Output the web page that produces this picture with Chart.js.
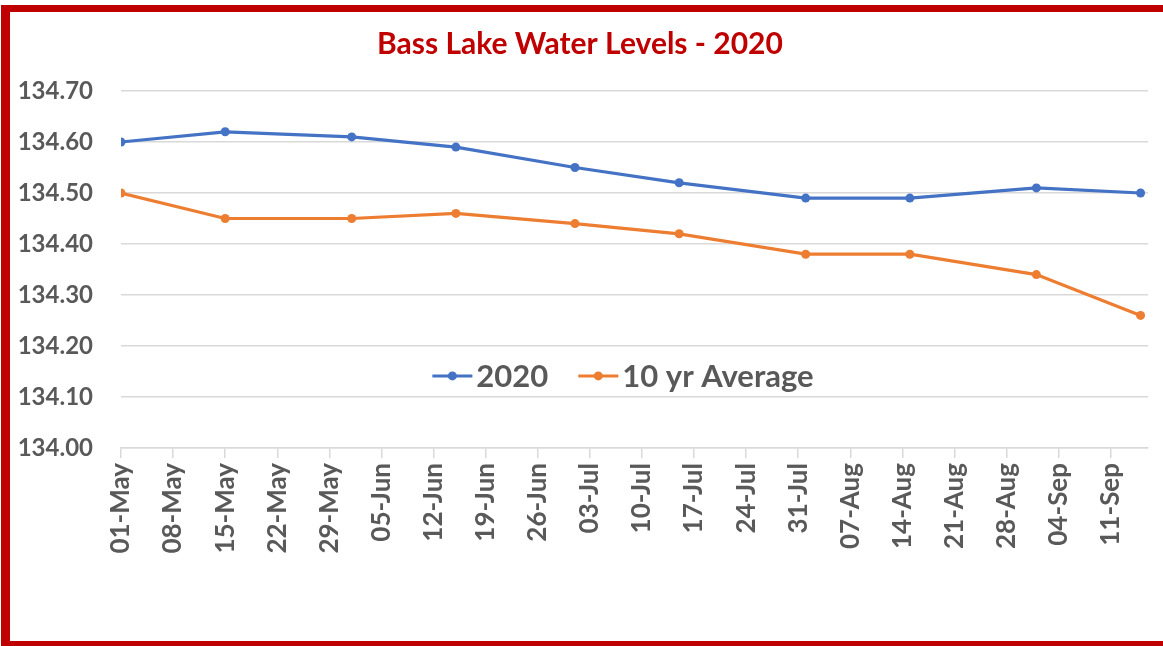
<!DOCTYPE html>
<html>
<head>
<meta charset="utf-8">
<script src="https://cdn.jsdelivr.net/npm/chart.js@4.4.1/dist/chart.umd.min.js"></script>
<style>
  html, body { margin: 0; padding: 0; background: #ffffff; }
  #wrap { position: relative; width: 1163px; height: 646px; }
</style>
</head>
<body>
<div id="wrap"><canvas id="c"></canvas></div>
<script>
// ---- Data ----
const chartTitle = 'Bass Lake Water Levels - 2020';
const dates = ['2020-05-01','2020-05-15','2020-06-01','2020-06-15','2020-07-01','2020-07-15','2020-08-01','2020-08-15','2020-09-01','2020-09-15'];
const seriesNames = ['2020', '10 yr Average'];
const levels2020 = [134.60, 134.62, 134.61, 134.59, 134.55, 134.52, 134.49, 134.49, 134.51, 134.50];
const levelsAvg = [134.50, 134.45, 134.45, 134.46, 134.44, 134.42, 134.38, 134.38, 134.34, 134.26];
const tickDates = ['2020-05-01','2020-05-08','2020-05-15','2020-05-22','2020-05-29','2020-06-05','2020-06-12','2020-06-19','2020-06-26','2020-07-03','2020-07-10','2020-07-17','2020-07-24','2020-07-31','2020-08-07','2020-08-14','2020-08-21','2020-08-28','2020-09-04','2020-09-11'];
const tickLabels = ['01-May','08-May','15-May','22-May','29-May','05-Jun','12-Jun','19-Jun','26-Jun','03-Jul','10-Jul','17-Jul','24-Jul','31-Jul','07-Aug','14-Aug','21-Aug','28-Aug','04-Sep','11-Sep'];
const axisStartDate = '2020-05-01';
const axisEndDate = '2020-09-16';
const yTicks = [134.00, 134.10, 134.20, 134.30, 134.40, 134.50, 134.60, 134.70];

// day offset from the axis start
function dayOf(s) {
  const p = s.split('-').map(Number), q = axisStartDate.split('-').map(Number);
  return Math.round((Date.UTC(p[0], p[1]-1, p[2]) - Date.UTC(q[0], q[1]-1, q[2])) / 86400000);
}
const tickDays = tickDates.map(dayOf);

const BLUE = '#4472C4', ORANGE = '#ED7D31', GREY = '#595959', GRID = '#D9D9D9', RED = '#C00000';
Chart.defaults.font.family = 'Lato, "Open Sans", sans-serif';

const frame = {
  id: 'frame',
  beforeDraw(chart) {
    const ctx = chart.ctx;
    ctx.save();
    ctx.fillStyle = '#ffffff';
    ctx.fillRect(0, 0, chart.width, chart.height);
    ctx.restore();
  },
  afterDraw(chart) {
    const ctx = chart.ctx, w = chart.width, h = chart.height;
    ctx.save();
    ctx.fillStyle = RED;
    ctx.fillRect(1, 5, w - 1, 7);     // top
    ctx.fillRect(1, 5, 9, h - 5);     // left
    ctx.fillRect(1, h - 5, w - 1, 5); // bottom
    ctx.restore();
  }
};

const innerLegend = {
  id: 'innerLegend',
  afterDatasetsDraw(chart) {
    const ctx = chart.ctx, a = chart.chartArea;
    const font = 'bold 31px Lato, "Open Sans", sans-serif';
    ctx.save();
    ctx.font = font;
    const lineLen = 40, gapText = 4, gapItem = 30;
    const items = chart.data.datasets.map(d => ({ label: d.label, color: d.borderColor, w: ctx.measureText(d.label).width }));
    const total = items.reduce((s, it) => s + lineLen + gapText + it.w, 0) + gapItem * (items.length - 1);
    const cx = a.left + 0.4888 * (a.right - a.left);
    const cy = a.top + 0.798 * (a.bottom - a.top);
    let x = cx - total / 2;
    items.forEach(it => {
      ctx.strokeStyle = it.color;
      ctx.lineWidth = 3;
      ctx.beginPath();
      ctx.moveTo(x, cy);
      ctx.lineTo(x + lineLen, cy);
      ctx.stroke();
      ctx.fillStyle = it.color;
      ctx.beginPath();
      ctx.arc(x + lineLen / 2, cy, 4.5, 0, Math.PI * 2);
      ctx.fill();
      x += lineLen + gapText;
      ctx.fillStyle = GREY;
      ctx.textBaseline = 'middle';
      ctx.textAlign = 'left';
      ctx.fillText(it.label, x, cy + 1);
      x += it.w + gapItem;
    });
    ctx.restore();
  }
};

new Chart(document.getElementById('c'), {
  type: 'line',
  data: {
    datasets: [
      {
        label: seriesNames[0],
        data: dates.map((d, i) => ({ x: dayOf(d), y: levels2020[i] })),
        borderColor: BLUE, backgroundColor: BLUE,
        borderWidth: 3.2, pointRadius: 4.5, pointBorderWidth: 0, tension: 0
      },
      {
        label: seriesNames[1],
        data: dates.map((d, i) => ({ x: dayOf(d), y: levelsAvg[i] })),
        borderColor: ORANGE, backgroundColor: ORANGE,
        borderWidth: 3.2, pointRadius: 4.5, pointBorderWidth: 0, tension: 0
      }
    ]
  },
  options: {
    responsive: true,
    maintainAspectRatio: false,
    animation: false,
    layout: { padding: { left: 12, right: 15, top: 12, bottom: 10 } },
    plugins: {
      legend: { display: false },
      tooltip: { enabled: false },
      title: {
        display: true,
        text: chartTitle,
        color: RED,
        font: { size: 30, weight: 'bold' },
        padding: { top: 14, bottom: 29 }
      }
    },
    scales: {
      x: {
        type: 'linear',
        min: dayOf(axisStartDate),
        max: dayOf(axisEndDate),
        afterFit(scale) { scale.height = 646 - 10 - 448; },
        afterBuildTicks(scale) { scale.ticks = tickDays.map(v => ({ value: v })); },
        grid: { display: true, drawOnChartArea: false, drawTicks: true, tickLength: 10, color: GRID, lineWidth: 1.5 },
        border: { display: true, color: GRID, width: 1.5 },
        ticks: {
          autoSkip: false, minRotation: 90, maxRotation: 90, padding: 5,
          color: GREY, font: { size: 26, weight: 'bold' },
          callback(v) { const i = tickDays.indexOf(v); return i >= 0 ? tickLabels[i] : ''; }
        }
      },
      y: {
        min: yTicks[0],
        max: yTicks[yTicks.length - 1],
        afterFit(scale) { scale.width = 121 - 12; },
        afterBuildTicks(scale) { scale.ticks = yTicks.map(v => ({ value: v })); },
        grid: { color: GRID, lineWidth: 1.5, drawTicks: false },
        border: { display: false },
        ticks: {
          padding: 28, color: GREY, font: { size: 24, weight: 'bold' },
          callback(v) { return Number(v).toFixed(2); }
        }
      }
    }
  },
  plugins: [frame, innerLegend]
});
</script>
</body>
</html>
